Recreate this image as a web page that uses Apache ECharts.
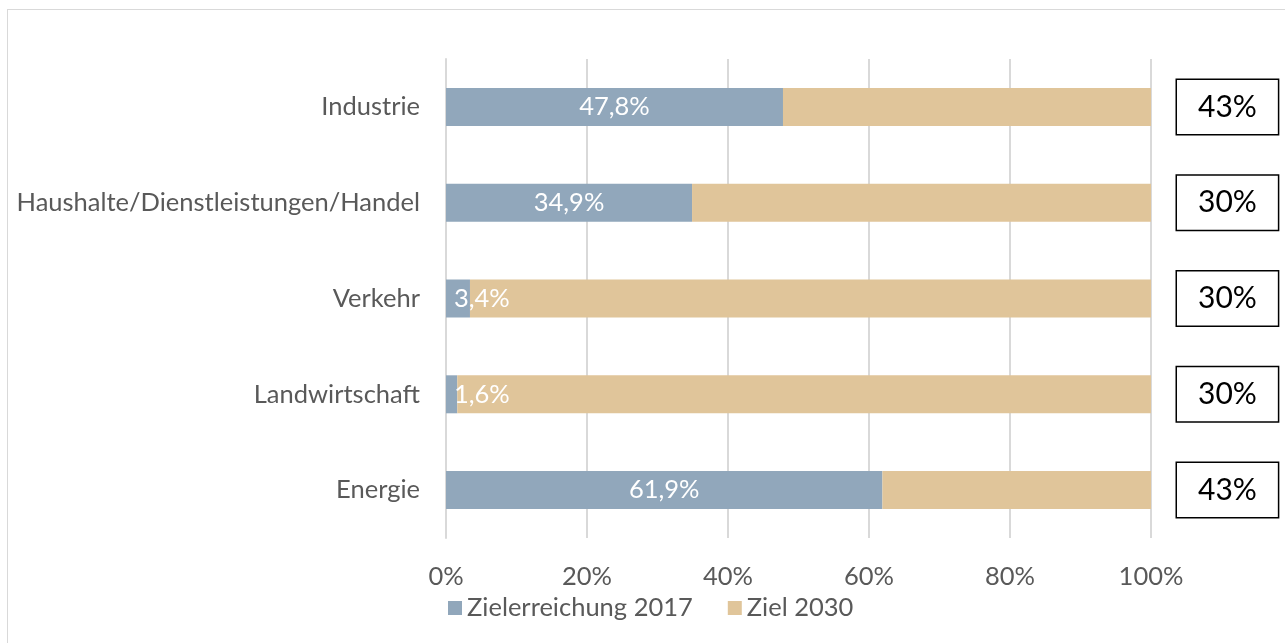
<!DOCTYPE html>
<html>
<head>
<meta charset="utf-8">
<script src="https://cdn.jsdelivr.net/npm/echarts@6/dist/echarts.min.js"></script>
<style>
  html, body { margin: 0; padding: 0; background: #fff; }
  #frame { position: absolute; left: 7px; top: 9px; width: 1400px; height: 700px; border: 1px solid #d9d9d9; }
  #chart { position: absolute; left: 0; top: 0; width: 1285px; height: 643px; }
</style>
</head>
<body>
<div id="frame"></div>
<div id="chart"></div>
<script>
const categories = ['Industrie', 'Haushalte/Dienstleistungen/Handel', 'Verkehr', 'Landwirtschaft', 'Energie']
const reached2017 = [47.8, 34.9, 3.4, 1.6, 61.9]
const remaining2030 = [52.2, 65.1, 96.6, 98.4, 38.1]
const targets2030 = ['43%', '30%', '30%', '30%', '43%']
const xTicks = [0, 20, 40, 60, 80, 100]

const fontFamily = 'Lato, "Open Sans", sans-serif'
const textGray = '#595959'
const fontSize = 25.5

const fmt = v => v.toFixed(1).replace('.', ',') + '%'

const chart = echarts.init(document.getElementById('chart'))

const option = {
  animation: false,
  textStyle: { fontFamily },
  grid: { left: 446, right: 134, top: 59, bottom: 105 },
  legend: {
    bottom: 17,
    left: 443,
    itemWidth: 14,
    itemHeight: 14,
    itemGap: 35,
    icon: 'rect',
    textStyle: { color: textGray, fontSize, fontFamily }
  },
  xAxis: {
    type: 'value',
    min: xTicks[0],
    max: xTicks[xTicks.length - 1],
    interval: 20,
    axisLabel: { formatter: '{value}%', color: textGray, fontSize, margin: 26 },
    axisLine: { show: false },
    axisTick: { show: false },
    splitLine: { lineStyle: { color: '#d9d9d9', width: 2 } }
  },
  yAxis: {
    type: 'category',
    inverse: true,
    data: categories,
    axisLabel: { color: textGray, fontSize, margin: 26 },
    axisTick: { show: false },
    axisLine: { lineStyle: { color: '#d9d9d9', width: 2 } }
  },
  series: [
    {
      name: 'Zielerreichung 2017',
      type: 'bar',
      stack: 'total',
      barWidth: 38,
      itemStyle: { color: '#91A7BB' },
      label: {
        show: true,
        color: '#fff',
        fontSize,
        formatter: p => fmt(p.value)
      },
      data: reached2017.map(v => v < 10
        ? { value: v, label: { position: 'insideLeft', distance: 8 } }
        : { value: v, label: { position: 'inside' } })
    },
    {
      name: 'Ziel 2030',
      type: 'bar',
      stack: 'total',
      barWidth: 38,
      itemStyle: { color: '#E0C59A' },
      label: {
        show: true,
        position: 'right',
        distance: 26,
        color: '#000',
        fontSize: 30,
        lineHeight: 30,
        padding: [12, 21, 12, 21],
        borderColor: '#000',
        borderWidth: 1.5,
        backgroundColor: '#fff',
        formatter: p => targets2030[p.dataIndex]
      },
      data: remaining2030
    }
  ]
}

chart.setOption(option)
</script>
</body>
</html>
